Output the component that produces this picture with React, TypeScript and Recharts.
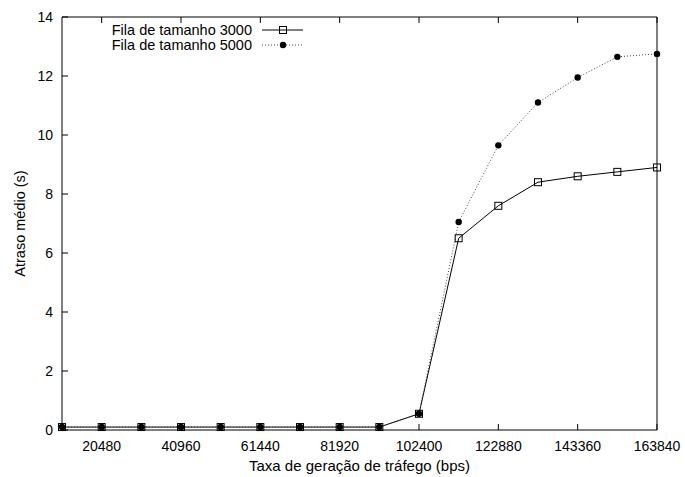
import React from "react";
import { LineChart, Line, XAxis, YAxis, Legend } from "recharts";

// Traffic generation rate (bps)
const rates = [
  10240, 20480, 30720, 40960, 51200, 61440, 71680, 81920, 92160, 102400,
  112640, 122880, 133120, 143360, 153600, 163840,
];
// Mean delay (s) for queue size 3000
const delayQueue3000 = [
  0.1, 0.1, 0.1, 0.1, 0.1, 0.1, 0.1, 0.1, 0.1, 0.55, 6.5, 7.6, 8.4, 8.6, 8.75,
  8.9,
];
// Mean delay (s) for queue size 5000
const delayQueue5000 = [
  0.1, 0.1, 0.1, 0.1, 0.1, 0.1, 0.1, 0.1, 0.1, 0.55, 7.05, 9.65, 11.1, 11.95,
  12.65, 12.75,
];
const xTicks = [20480, 40960, 61440, 81920, 102400, 122880, 143360, 163840];
const yTicks = [0, 2, 4, 6, 8, 10, 12, 14];
const seriesNames = ["Fila de tamanho 3000", "Fila de tamanho 5000"];

const data = rates.map((r, i) => ({
  rate: r,
  q3000: delayQueue3000[i],
  q5000: delayQueue5000[i],
}));

const FONT = '"Liberation Sans", Arial, Helvetica, sans-serif';
const TICK_LEN = 6;

const BottomTick = (props: any) => {
  const { x, y, payload } = props;
  return (
    <g>
      <line x1={x} x2={x} y1={y} y2={y - TICK_LEN} stroke="#000" />
      <text x={x} y={y + 21} textAnchor="middle" fontSize={14} fontFamily={FONT} fill="#000">
        {payload.value}
      </text>
    </g>
  );
};

const TopTick = (props: any) => {
  const { x, y } = props;
  return <line x1={x} x2={x} y1={y} y2={y + TICK_LEN} stroke="#000" />;
};

const LeftTick = (props: any) => {
  const { x, y, payload } = props;
  return (
    <g>
      <line x1={x} x2={x + TICK_LEN} y1={y} y2={y} stroke="#000" />
      <text x={x - 9} y={y + 5} textAnchor="end" fontSize={14} fontFamily={FONT} fill="#000">
        {payload.value}
      </text>
    </g>
  );
};

const RightTick = (props: any) => {
  const { x, y } = props;
  return <line x1={x} x2={x - TICK_LEN} y1={y} y2={y} stroke="#000" />;
};

const SquareDot = (props: any) => {
  const { cx, cy, index } = props;
  if (cx == null || cy == null) return null;
  return (
    <rect key={`sq-${index}`} x={cx - 3.5} y={cy - 3.5} width={7} height={7} fill="none" stroke="#000" strokeWidth={1} />
  );
};

const CircleDot = (props: any) => {
  const { cx, cy, index } = props;
  if (cx == null || cy == null) return null;
  return <circle key={`ci-${index}`} cx={cx} cy={cy} r={3.2} fill="#000" />;
};

const LegendBox = () => (
  <svg width={220} height={34} style={{ display: "block" }}>
    <text x={152} y={15} textAnchor="end" fontSize={14.5} fontFamily={FONT} fill="#000">
      {seriesNames[0]}
    </text>
    <line x1={162} x2={203} y1={10} y2={10} stroke="#000" />
    <rect x={179.5} y={6.5} width={7} height={7} fill="none" stroke="#000" />
    <text x={152} y={30} textAnchor="end" fontSize={14.5} fontFamily={FONT} fill="#000">
      {seriesNames[1]}
    </text>
    <line x1={162} x2={203} y1={25} y2={25} stroke="#444" strokeDasharray="1 2" />
    <circle cx={183} cy={25} r={3.2} fill="#000" />
  </svg>
);

export default function App() {
  return (
    <div style={{ position: "absolute", left: 0, top: 0, background: "#fff" }}>
      <LineChart
        width={685}
        height={477}
        data={data}
        margin={{ top: 16, right: 27, bottom: 46, left: 61 }}
      >
        <XAxis
          dataKey="rate"
          type="number"
          domain={[10240, 163840]}
          ticks={xTicks}
          interval={0}
          height={1}
          tickSize={0}
          tickMargin={0}
          tickLine={false}
          tick={<BottomTick />}
          axisLine={{ stroke: "#000" }}
          label={(p: any) => {
            const vb = p.viewBox;
            return (
              <text
                x={vb.x + vb.width / 2}
                y={vb.y + 41}
                textAnchor="middle"
                fontSize={15}
                fontFamily={FONT}
                fill="#000"
              >
                Taxa de geração de tráfego (bps)
              </text>
            );
          }}
        />
        <XAxis
          xAxisId="top"
          orientation="top"
          dataKey="rate"
          type="number"
          domain={[10240, 163840]}
          ticks={xTicks}
          interval={0}
          height={1}
          tickSize={0}
          tickMargin={0}
          tickLine={false}
          tick={<TopTick />}
          axisLine={{ stroke: "#000" }}
        />
        <YAxis
          type="number"
          domain={[0, 14]}
          ticks={yTicks}
          interval={0}
          width={1}
          tickSize={0}
          tickMargin={0}
          tickLine={false}
          tick={<LeftTick />}
          axisLine={{ stroke: "#000" }}
          label={(p: any) => {
            const vb = p.viewBox;
            const cx = 20;
            const cy = vb.y + vb.height / 2;
            return (
              <text
                x={cx}
                y={cy}
                transform={`rotate(-90 ${cx} ${cy})`}
                textAnchor="middle"
                dominantBaseline="central"
                fontSize={14.5}
                fontFamily={FONT}
                fill="#000"
              >
                Atraso médio (s)
              </text>
            );
          }}
        />
        <YAxis
          yAxisId="right"
          orientation="right"
          type="number"
          domain={[0, 14]}
          ticks={yTicks}
          interval={0}
          width={1}
          tickSize={0}
          tickMargin={0}
          tickLine={false}
          tick={<RightTick />}
          axisLine={{ stroke: "#000" }}
        />
        <Legend
          layout="horizontal"
          verticalAlign="middle"
          align="center"
          content={<LegendBox />}
          wrapperStyle={{ position: "absolute", top: 20, left: 100, width: 220, height: 34 }}
        />
        <Line
          type="linear"
          dataKey="q3000"
          name={seriesNames[0]}
          stroke="#000"
          strokeWidth={1}
          dot={<SquareDot />}
          activeDot={false}
          isAnimationActive={false}
        />
        <Line
          type="linear"
          dataKey="q5000"
          name={seriesNames[1]}
          stroke="#444"
          strokeWidth={1}
          strokeDasharray="1 2"
          dot={<CircleDot />}
          activeDot={false}
          isAnimationActive={false}
        />
      </LineChart>
    </div>
  );
}
